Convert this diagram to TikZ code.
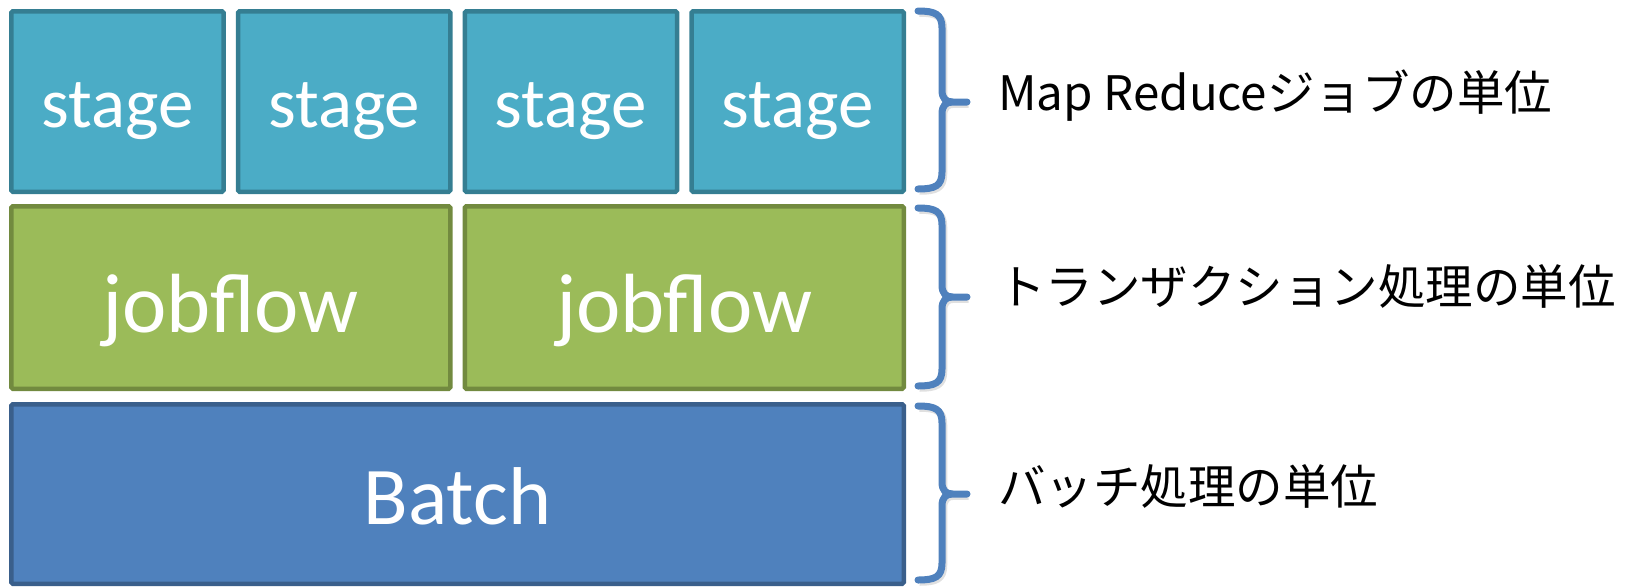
\documentclass[tikz,border=0pt]{standalone}
\usepackage{fontspec}
\setmainfont{Carlito}
\newfontfamily\jpfont{Noto Sans CJK JP}
\usetikzlibrary{calc}

\definecolor{stagefill}{HTML}{4BACC6}
\definecolor{stageline}{HTML}{357E92}
\definecolor{flowfill}{HTML}{9BBB59}
\definecolor{flowline}{HTML}{728A3F}
\definecolor{batchfill}{HTML}{4F81BD}
\definecolor{batchline}{HTML}{3A5F8B}
\definecolor{bracecol}{HTML}{4F81BD}

\tikzset{
  layerbox/.style={draw, line width=4.5pt, rounded corners=1.5pt, inner sep=0pt,
    text=white, align=center, text depth=0pt},
  stagebox/.style={layerbox, fill=stagefill, draw=stageline,
    minimum width=212.25pt, minimum height=180.5pt, text height=51pt,
    font=\fontsize{71}{71}\selectfont},
  flowbox/.style={layerbox, fill=flowfill, draw=flowline,
    minimum width=439pt, minimum height=182.5pt, text height=69pt,
    font=\fontsize{84}{84}\selectfont},
  batchbox/.style={layerbox, fill=batchfill, draw=batchline,
    minimum width=892.5pt, minimum height=179.5pt, text height=60pt,
    font=\fontsize{82}{82}\selectfont},
  bracket/.style={draw=bracecol, line width=7pt, line cap=round, line join=round,
    preaction={draw=black, opacity=0.12, line width=7.5pt, transform canvas={shift={(1.5pt,-2pt)}}}},
  layerlabel/.style={anchor=west, inner sep=0pt, text=black,
    font=\jpfont\fontsize{47.5}{47.5}\selectfont}
}

\begin{document}
\begin{tikzpicture}[x=1pt, y=-1pt]
  \useasboundingbox (0,0) rectangle (1638,587);

  % top row: four stages
  \node[stagebox] (s1) at (117.375,101.5) {stage};
  \node[stagebox] (s2) at (344.125,101.5) {stage};
  \node[stagebox] (s3) at (570.875,101.5) {stage};
  \node[stagebox] (s4) at (797.625,101.5) {stage};

  % middle row: two jobflows
  \node[flowbox] (f1) at (230.75,297.5) {jobflow};
  \node[flowbox] (f2) at (684.25,297.5) {jobflow};

  % bottom row: the batch
  \node[batchbox] (b) at (457.5,494) {Batch};

  % brace ends (top, tip, bottom) for each level
  \coordinate (r1t) at (918,11);
  \coordinate (r1m) at (967,102);
  \coordinate (r1b) at (918,189);
  \coordinate (r2t) at (918,208);
  \coordinate (r2m) at (967,297);
  \coordinate (r2b) at (918,386);
  \coordinate (r3t) at (918,406);
  \coordinate (r3m) at (967,494);
  \coordinate (r3b) at (918,580);

  \foreach \r in {r1,r2,r3} {
    \draw[bracket]
      (\r t) .. controls ($(\r t)+(17,0)$) and ($(\r t)+(24,3)$) .. ($(\r t)+(24,17)$)
        -- ($(\r m)+(-25,-12)$)
        .. controls ($(\r m)+(-25,-3)$) and ($(\r m)+(-21,0)$) .. ($(\r m)+(-14,0)$)
        -- (\r m)
      (\r b) .. controls ($(\r b)+(17,0)$) and ($(\r b)+(24,-3)$) .. ($(\r b)+(24,-17)$)
        -- ($(\r m)+(-25,12)$)
        .. controls ($(\r m)+(-25,3)$) and ($(\r m)+(-21,0)$) .. ($(\r m)+(-14,0)$)
        -- (\r m);
  }

  % labels for each level
  \node[layerlabel] (l1) at (998,96) {Map Reduceジョブの単位};
  \node[layerlabel] (l2) at (998,286) {トランザクション処理の単位};
  \node[layerlabel] (l3) at (998,486) {バッチ処理の単位};
\end{tikzpicture}
\end{document}
